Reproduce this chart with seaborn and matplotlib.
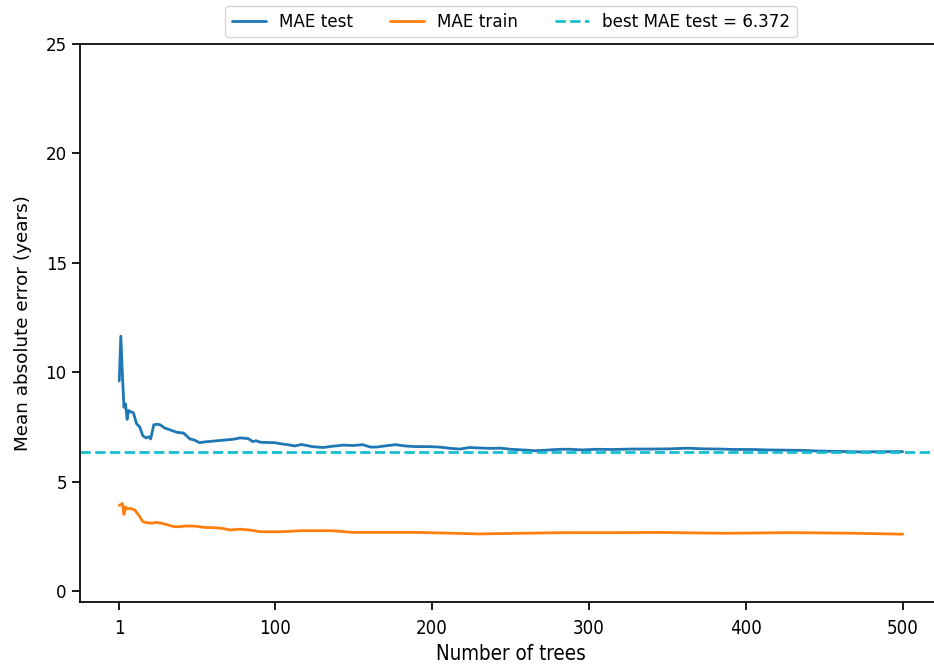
import matplotlib
matplotlib.use("Agg")
import matplotlib.pyplot as plt
import seaborn as sns
import pandas as pd

# ---- data ----
test_trees = [1, 2, 3, 4, 5, 6, 7, 8, 10, 12, 14, 16, 18, 20, 21, 23, 25, 27, 30, 34,
              38, 42, 46, 49, 52, 56, 62, 68, 74, 78, 83, 86, 88, 91, 100, 104, 108, 113, 117, 124,
              131, 137, 144, 150, 156, 161, 165, 170, 177, 183, 190, 199, 205, 212, 218, 224, 230, 237, 244, 250,
              258, 266, 275, 282, 288, 296, 305, 315, 328, 340, 352, 363, 373, 383, 393, 404, 414, 425, 435, 446,
              460, 473, 486, 500]
test_mae = [9.6, 11.65, 9.9, 8.4, 8.55, 7.85, 8.25, 8.2, 8.15, 7.65, 7.5, 7.1, 7.0, 7.05, 6.95, 7.6, 7.62, 7.6, 7.45, 7.35,
            7.25, 7.22, 6.95, 6.9, 6.78, 6.82, 6.86, 6.9, 6.94, 7.0, 6.97, 6.83, 6.87, 6.8, 6.78, 6.73, 6.69, 6.63, 6.7, 6.6,
            6.56, 6.62, 6.67, 6.65, 6.69, 6.58, 6.58, 6.63, 6.69, 6.63, 6.6, 6.6, 6.58, 6.52, 6.49, 6.56, 6.54, 6.52, 6.53, 6.48,
            6.45, 6.41, 6.45, 6.48, 6.48, 6.45, 6.48, 6.47, 6.49, 6.49, 6.5, 6.53, 6.5, 6.49, 6.47, 6.47, 6.45, 6.44, 6.43, 6.4,
            6.38, 6.36, 6.37, 6.372]

train_trees = [1, 2, 3, 4, 5, 6, 8, 11, 14, 16, 19, 22, 24, 28, 32, 36, 39, 43, 49, 55,
               62, 66, 72, 78, 85, 91, 104, 117, 136, 150, 171, 192, 214, 230, 256, 285, 320, 344, 387, 429,
               470, 500]
train_mae = [3.92, 3.95, 4.0, 3.5, 3.85, 3.75, 3.78, 3.7, 3.4, 3.17, 3.12, 3.1, 3.14, 3.1, 3.02, 2.94, 2.94, 2.97, 2.97, 2.91,
             2.89, 2.87, 2.79, 2.83, 2.78, 2.71, 2.71, 2.76, 2.76, 2.68, 2.68, 2.68, 2.64, 2.61, 2.64, 2.67, 2.67, 2.68, 2.64, 2.67,
             2.64, 2.6]

best_mae = 6.372
x_ticks = [1, 100, 200, 300, 400, 500]
y_ticks = [0, 5, 10, 15, 20, 25]

sns.set_theme(style="ticks", context="notebook", font_scale=1.1)
plt.rcParams['font.family'] = ['DejaVu Sans']
plt.rcParams.update({
    "text.color": "black",
    "axes.labelcolor": "black",
    "axes.edgecolor": "black",
    "xtick.color": "black",
    "ytick.color": "black",
})

fig = plt.figure(figsize=(9.34, 6.68), dpi=100)
ax = fig.add_axes([80 / 934, 66 / 668, 862 / 934, 558 / 668])

df_test = pd.DataFrame({"trees": test_trees, "mae": test_mae})
df_train = pd.DataFrame({"trees": train_trees, "mae": train_mae})

sns.lineplot(data=df_test, x="trees", y="mae", ax=ax, color="#1f77b4", lw=2, label="MAE test")
sns.lineplot(data=df_train, x="trees", y="mae", ax=ax, color="#ff7f0e", lw=2, label="MAE train")
ax.axhline(best_mae, color="#17becf", lw=2, ls="--", label=f"best MAE test = {best_mae}")

ax.set_xlim(-24, 525)
ax.set_ylim(-0.5, 25)
ax.set_xticks(x_ticks)
ax.set_yticks(y_ticks)
ax.set_xticklabels([str(t) for t in x_ticks], fontstretch="condensed", fontsize=13.4)
ax.tick_params(axis="x", pad=6.5)
ax.set_xlabel("Number of trees", fontstretch="condensed", fontsize=14.8, labelpad=4)
ax.set_ylabel("Mean absolute error (years)", labelpad=10)
ax.spines["right"].set_visible(False)

ax.legend(loc="lower center", bbox_to_anchor=((511 - 80) / 862, 1.0), ncol=3,
          frameon=True, borderaxespad=0.4, columnspacing=2.2)

fig.savefig("out.png", dpi=100)
